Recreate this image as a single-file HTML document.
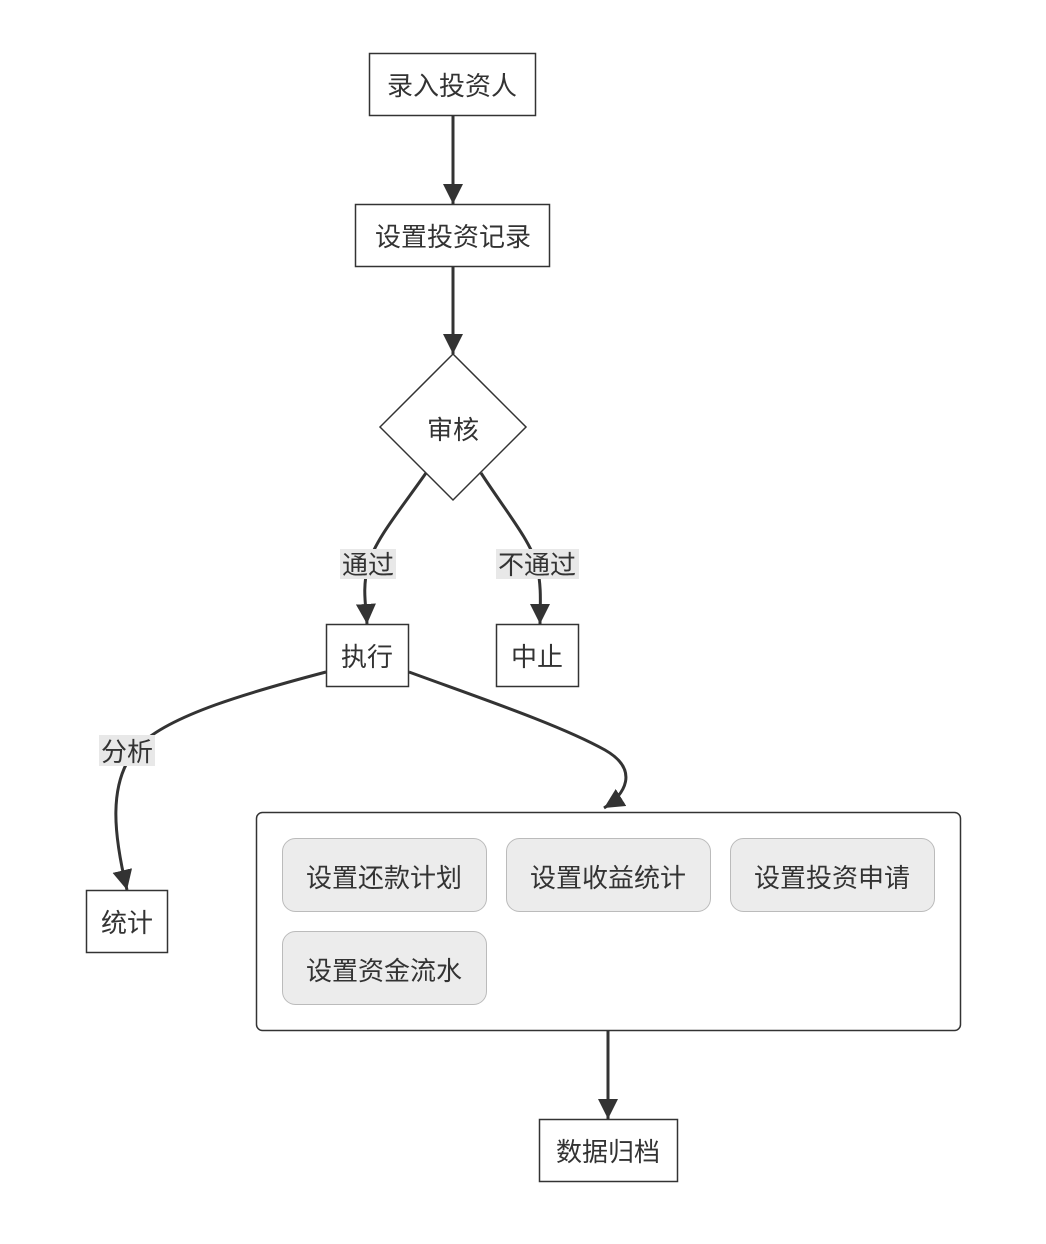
<!DOCTYPE html>
<html><head><meta charset="utf-8"><style>
html,body{margin:0;padding:0;background:#fff;}
svg text{font-family:"Liberation Sans","Noto Sans CJK SC",sans-serif;font-size:26px;fill:#333;}
</style></head><body>
<svg width="1046" height="1239" viewBox="0 0 1046 1239" xmlns="http://www.w3.org/2000/svg">
<defs>
<marker id="a" viewBox="0 0 10 10" refX="10" refY="5" markerWidth="7" markerHeight="7" markerUnits="userSpaceOnUse" orient="auto">
</marker>
<marker id="ar" viewBox="0 0 20 20" refX="20" refY="10" markerWidth="20" markerHeight="20" markerUnits="userSpaceOnUse" orient="auto">
<path d="M0,0 L20,10 L0,20 z" fill="#333"/>
</marker>
</defs>
<g fill="none" stroke="#333" stroke-width="3">
<path d="M453,116 L453,204" marker-end="url(#ar)"/>
<path d="M453,267 L453,354" marker-end="url(#ar)"/>
<path d="M426,473 C400,510 375,540 368,565 C362,590 366,605 367,624" marker-end="url(#ar)"/>
<path d="M481,473 C505,510 530,540 537,565 C542,590 540,605 540,624" marker-end="url(#ar)"/>
<path d="M326,672 C250,692 170,715 140,745 C105,780 115,840 127,890" marker-end="url(#ar)"/>
<path d="M409,672 C480,698 560,725 605,750 C640,770 625,795 604,808" marker-end="url(#ar)"/>
<path d="M608,1030 L608,1119" marker-end="url(#ar)"/>
</g>
<g fill="#fff" stroke="#333" stroke-width="1.5">
<rect x="369.5" y="53.5" width="166" height="62"/>
<rect x="355.5" y="204.5" width="194" height="62"/>
<path d="M453,354 L526,427 L453,500 L380,427 Z"/>
<rect x="326.5" y="624.5" width="82" height="62"/>
<rect x="496.5" y="624.5" width="82" height="62"/>
<rect x="86.5" y="890.5" width="81" height="62"/>
<rect x="256.5" y="812.5" width="704" height="218" rx="6"/>
<rect x="539.5" y="1119.5" width="138" height="62"/>
</g>
<g fill="#ececec" stroke="#bbb" stroke-width="1">
<rect x="282.5" y="838.5" width="204" height="73" rx="13"/>
<rect x="506.5" y="838.5" width="204" height="73" rx="13"/>
<rect x="730.5" y="838.5" width="204" height="73" rx="13"/>
<rect x="282.5" y="931.5" width="204" height="73" rx="13"/>
</g>
<g fill="#e8e8e8">
<rect x="340" y="549" width="56" height="30"/>
<rect x="496" y="549" width="83" height="30"/>
<rect x="99" y="735" width="56" height="31"/>
</g>
<g text-anchor="middle">
<text x="452" y="95">录入投资人</text>
<text x="453" y="246">设置投资记录</text>
<text x="453" y="439">审核</text>
<text x="368" y="574">通过</text>
<text x="537" y="574">不通过</text>
<text x="367" y="666">执行</text>
<text x="537" y="666">中止</text>
<text x="127" y="761">分析</text>
<text x="127" y="932">统计</text>
<text x="384" y="887">设置还款计划</text>
<text x="608" y="887">设置收益统计</text>
<text x="832" y="887">设置投资申请</text>
<text x="384" y="980">设置资金流水</text>
<text x="608" y="1161">数据归档</text>
</g>
</svg>
</body></html>
